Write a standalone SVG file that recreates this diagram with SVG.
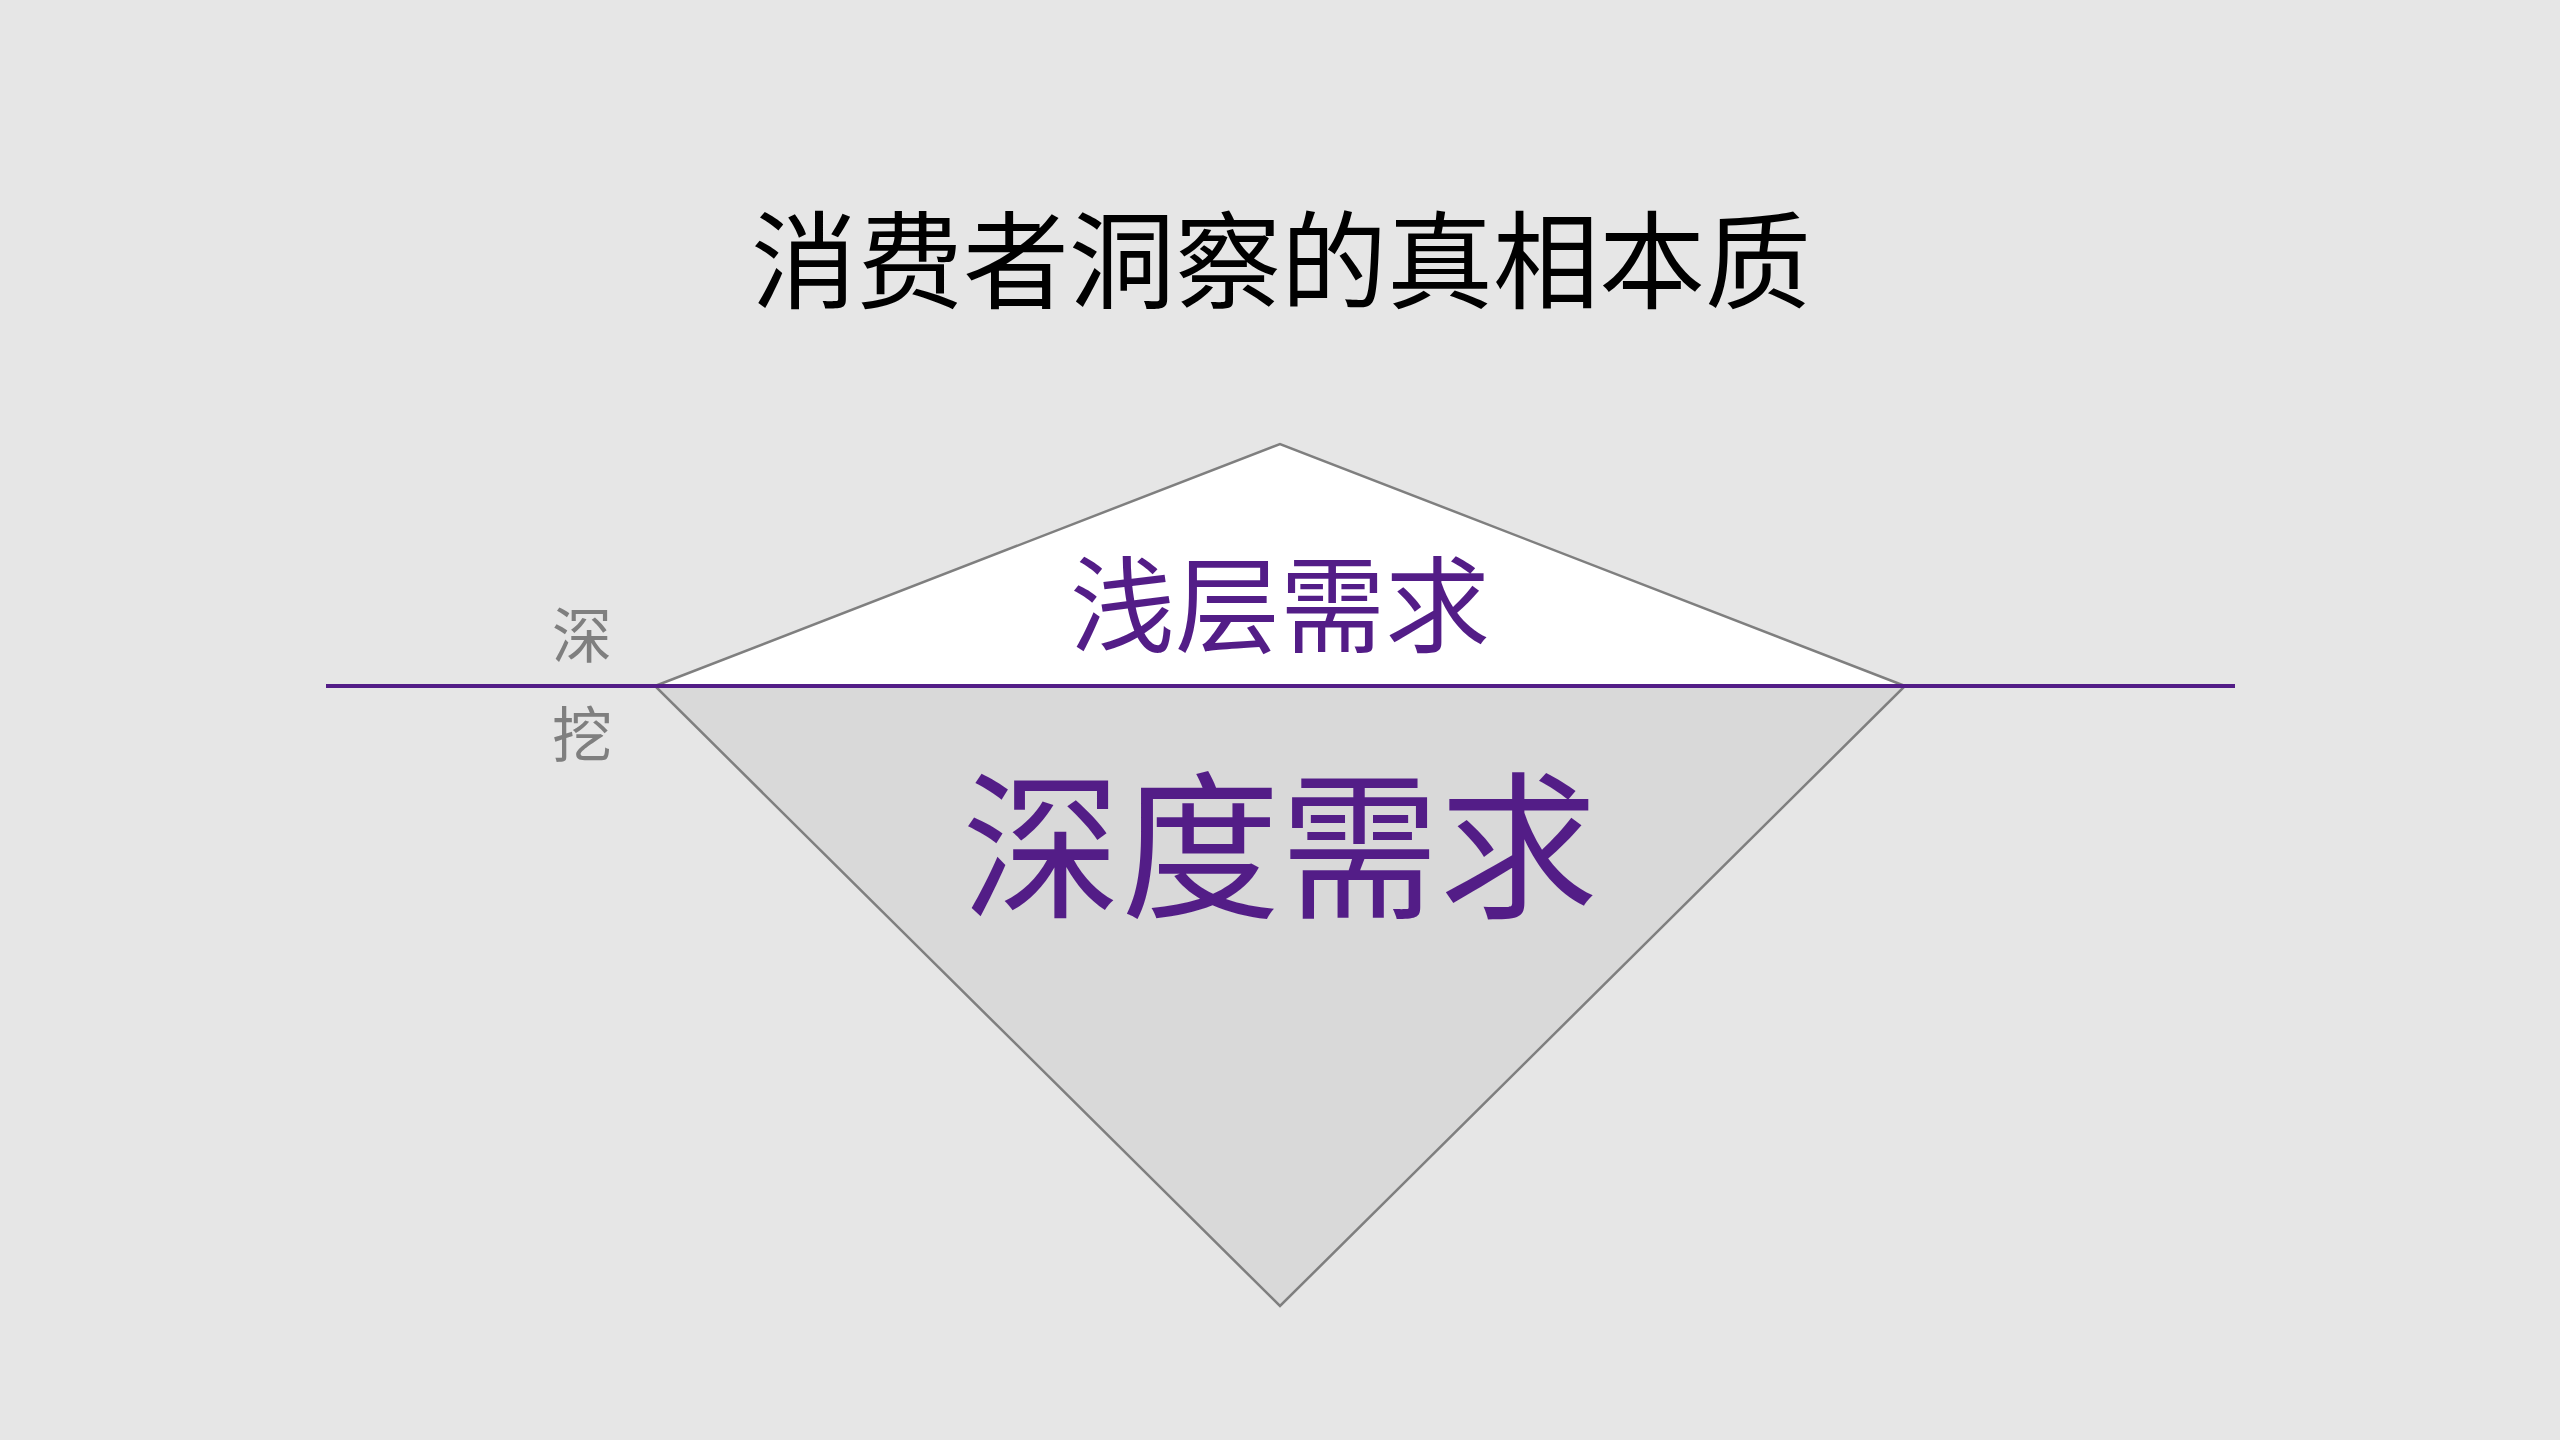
<svg xmlns="http://www.w3.org/2000/svg" width="2560" height="1440" viewBox="0 0 2560 1440">
<style>
.cjk{font-family:"Noto Sans CJK SC","Noto Sans",sans-serif;}
.title{font-size:106px;fill:#000000;text-anchor:middle;}
.purple{fill:#531d87;text-anchor:middle;}
.side{font-size:60px;fill:#7f7f7f;text-anchor:middle;}
.tri{stroke:#7f7f7f;stroke-width:2.5;stroke-linejoin:miter;}
</style>
<rect x="0" y="0" width="2560" height="1440" fill="#e6e6e6"/>
<g id="title"><text class="cjk title" x="1281" y="300">消费者洞察的真相本质</text></g>
<g id="deep-node">
<polygon class="tri" points="655,686 1905,686 1280,1306" fill="#d9d9d9"/>
<text class="cjk purple" x="1280" y="906" font-size="159">深度需求</text>
</g>
<g id="shallow-node">
<polygon class="tri" points="655,686 1280,444 1905,686" fill="#ffffff"/>
<text class="cjk purple" x="1280" y="644" font-size="105">浅层需求</text>
</g>
<g id="connectors">
<line x1="326" y1="686" x2="2235" y2="686" stroke="#531d87" stroke-width="4"/>
</g>
<g id="label-dig">
<text class="cjk side" x="582" y="658">深</text>
<text class="cjk side" x="582" y="757">挖</text>
</g>
</svg>
